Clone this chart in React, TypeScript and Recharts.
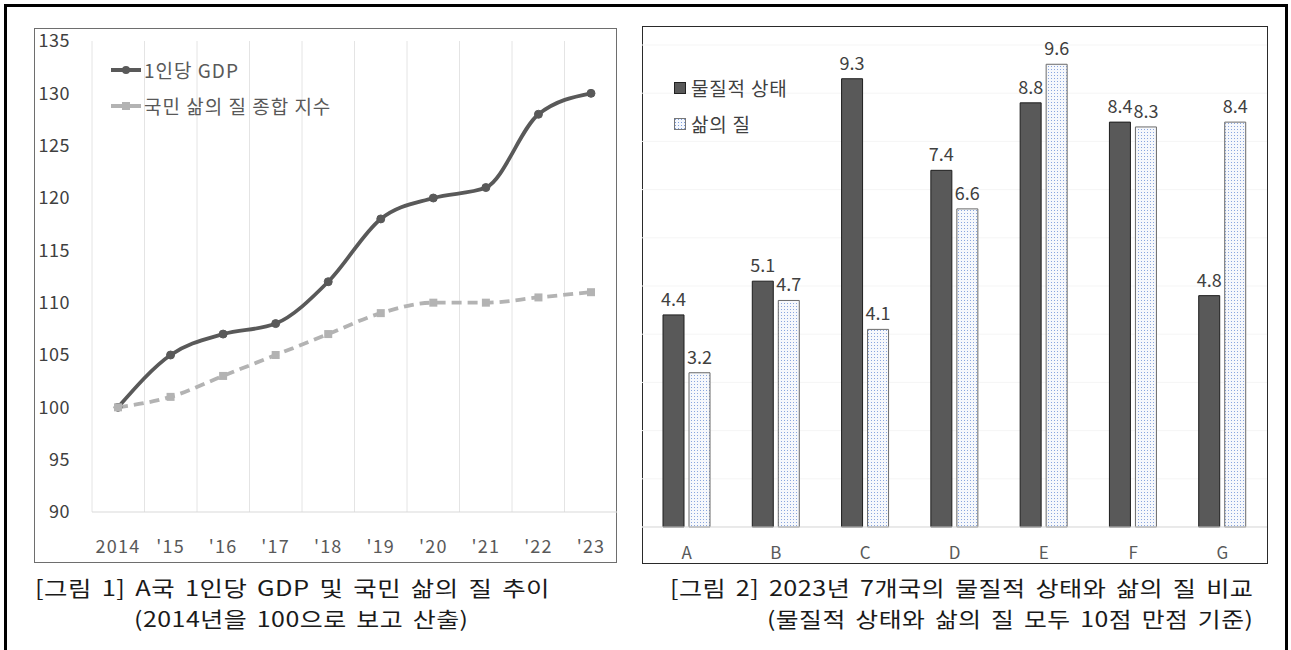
import React from 'react';
import {
  LineChart,
  Line,
  XAxis,
  YAxis,
  CartesianGrid,
  Legend,
  BarChart,
  Bar,
  LabelList,
} from 'recharts';

// ---------- Figure 1 data ----------
const years = ['2014', "'15", "'16", "'17", "'18", "'19", "'20", "'21", "'22", "'23"];
const gdpIndex = [100, 105, 107, 108, 112, 118, 120, 121, 128, 130];
const qualityIndex = [100, 101, 103, 105, 107, 109, 110, 110, 110.5, 111];
const indexTicks = [90, 95, 100, 105, 110, 115, 120, 125, 130, 135];
const lineSeriesNames = ['1인당 GDP', '국민 삶의 질 종합 지수'];

// ---------- Figure 2 data ----------
const countries = ['A', 'B', 'C', 'D', 'E', 'F', 'G'];
const materialScore = [4.4, 5.1, 9.3, 7.4, 8.8, 8.4, 4.8];
const lifeScore = [3.2, 4.7, 4.1, 6.6, 9.6, 8.3, 8.4];
const scoreTicks = [0, 1, 2, 3, 4, 5, 6, 7, 8, 9, 10];
const barSeriesNames = ['물질적 상태', '삶의 질'];

const captions1 = ['[그림 1] A국 1인당 GDP 및 국민 삶의 질 추이', '(2014년을 100으로 보고 산출)'];
const captions2 = ['[그림 2] 2023년 7개국의 물질적 상태와 삶의 질 비교', '(물질적 상태와 삶의 질 모두 10점 만점 기준)'];

const lineData = years.map((y, i) => ({ year: y, gdp: gdpIndex[i], quality: qualityIndex[i] }));
const barData = countries.map((c, i) => ({ country: c, material: materialScore[i], life: lifeScore[i] }));

const FONT = "'Noto Sans CJK KR', 'Noto Sans', sans-serif";
const DARK = '#595959';
const LIGHT = '#b3b3b3';

const SquareDot = (props: any) => {
  const { cx, cy, index } = props;
  if (cx == null || cy == null) return null;
  return <rect key={`sq-${index}`} x={cx - 4} y={cy - 4} width={8} height={8} fill={LIGHT} />;
};

const LineLegend = () => (
  <div style={{ fontFamily: FONT, fontSize: 19, color: DARK, lineHeight: '36px', letterSpacing: 1 }}>
    <div style={{ display: 'flex', alignItems: 'center', whiteSpace: 'nowrap' }}>
      <svg width={32} height={12} style={{ marginRight: 1 }}>
        <line x1={0} y1={6} x2={30} y2={6} stroke={DARK} strokeWidth={4} />
        <circle cx={15} cy={6} r={4} fill={DARK} />
      </svg>
      <span>{lineSeriesNames[0]}</span>
    </div>
    <div style={{ display: 'flex', alignItems: 'center', whiteSpace: 'nowrap' }}>
      <svg width={32} height={12} style={{ marginRight: 1 }}>
        <line x1={0} y1={6} x2={30} y2={6} stroke={LIGHT} strokeWidth={4} />
        <rect x={11} y={2} width={8} height={8} fill={LIGHT} />
      </svg>
      <span>{lineSeriesNames[1]}</span>
    </div>
  </div>
);

const BarLegend = () => (
  <div style={{ fontFamily: FONT, fontSize: 19, color: '#404040', lineHeight: '36px', letterSpacing: 0.8 }}>
    <div style={{ display: 'flex', alignItems: 'center', whiteSpace: 'nowrap' }}>
      <svg width={14} height={12} style={{ marginRight: 3 }}>
        <rect x={0.5} y={0.5} width={11} height={11} fill={DARK} stroke="#222" />
      </svg>
      <span>{barSeriesNames[0]}</span>
    </div>
    <div style={{ display: 'flex', alignItems: 'center', whiteSpace: 'nowrap' }}>
      <svg width={14} height={12} style={{ marginRight: 3 }}>
        <defs>
          <pattern id="legdots" width="3" height="3" patternUnits="userSpaceOnUse">
            <rect width="3" height="3" fill="#f5f8fd" />
            <rect x="1" y="1" width="1" height="1" fill="#7d9ddb" />
          </pattern>
        </defs>
        <rect x={0.5} y={0.5} width={11} height={11} fill="url(#legdots)" stroke="#777" />
      </svg>
      <span>{barSeriesNames[1]}</span>
    </div>
  </div>
);

const captionStyle: React.CSSProperties = {
  position: 'absolute',
  fontFamily: FONT,
  fontSize: 21,
  color: '#1a1a1a',
  whiteSpace: 'nowrap',
  lineHeight: '24px',
  letterSpacing: 0.4,
  wordSpacing: 3,
  display: 'inline-block',
};

// Caption text stretched horizontally to the width it occupies in the figure.
const FitText = ({ text, left, right, top, width }: { text: string; left?: number; right?: number; top: number; width: number }) => {
  const ref = React.useRef<HTMLSpanElement>(null);
  const [scale, setScale] = React.useState(1);
  React.useLayoutEffect(() => {
    if (ref.current) {
      const w = ref.current.offsetWidth;
      if (w > 0) setScale(width / w);
    }
  }, [text, width]);
  return (
    <span
      ref={ref}
      style={{
        ...captionStyle,
        left,
        right,
        top,
        transform: `scaleX(${scale})`,
        transformOrigin: right != null ? 'right center' : 'left center',
      }}
    >
      {text}
    </span>
  );
};

export default function App() {
  return (
    <div
      style={{
        position: 'absolute',
        left: 0,
        top: 0,
        width: 1291,
        height: 650,
        overflow: 'hidden',
        background: '#ffffff',
        fontFamily: FONT,
      }}
    >
      {/* outer frame */}
      <div
        style={{
          position: 'absolute',
          left: 4,
          top: 4,
          width: 1284,
          height: 680,
          border: '3px solid #000',
          boxSizing: 'border-box',
        }}
      />

      {/* Figure 1 box */}
      <div
        style={{
          position: 'absolute',
          left: 34,
          top: 28,
          width: 583,
          height: 535,
          border: '1px solid #6e6e6e',
          boxSizing: 'border-box',
        }}
      />
      <div style={{ position: 'absolute', left: 34, top: 18 }}>
        <LineChart width={583} height={544} data={lineData} margin={{ top: 23, right: 0, bottom: 0, left: 0 }}>
          <CartesianGrid
            horizontal={false}
            stroke="#e4e4e4"
            verticalCoordinatesGenerator={({ offset }: any) =>
              years.map((_, i) => offset.left + (i * offset.width) / years.length)
            }
          />
          <XAxis
            dataKey="year"
            height={50}
            padding={{ left: 26, right: 26 }}
            axisLine={{ stroke: '#d9d9d9' }}
            tickLine={false}
            tickMargin={22}
            interval={0}
            tick={{ fill: DARK, fontSize: 18, fontFamily: FONT, letterSpacing: 1.2 }}
          />
          <YAxis
            domain={[90, 135]}
            ticks={indexTicks}
            width={58}
            axisLine={false}
            tickLine={false}
            tickMargin={16}
            interval={0}
            tick={{ fill: '#404040', fontSize: 18, fontFamily: FONT, letterSpacing: 0.5 }}
          />
          <Legend
            layout="vertical"
            align="center"
            verticalAlign="middle"
            content={() => <LineLegend />}
            wrapperStyle={{ left: 77, top: 34, width: 'auto' }}
          />
          <Line
            dataKey="gdp"
            type="monotone"
            stroke={DARK}
            strokeWidth={3.8}
            dot={{ r: 4, fill: DARK, stroke: DARK, strokeWidth: 1 }}
            isAnimationActive={false}
          />
          <Line
            dataKey="quality"
            type="monotone"
            stroke={LIGHT}
            strokeWidth={3.8}
            strokeDasharray="10 6"
            dot={SquareDot}
            isAnimationActive={false}
          />
        </LineChart>
      </div>
      <FitText text={captions1[0]} left={35} top={575} width={515} />
      <FitText text={captions1[1]} left={134} top={606} width={334} />

      {/* Figure 2 box */}
      <div
        style={{
          position: 'absolute',
          left: 642,
          top: 26,
          width: 626,
          height: 538,
          border: '1px solid #2a2a2a',
          boxSizing: 'border-box',
        }}
      />
      <div style={{ position: 'absolute', left: 642, top: 26 }}>
        <BarChart
          width={625}
          height={537}
          data={barData}
          margin={{ top: 19, right: 0, bottom: 0, left: 0 }}
          barSize={21}
          barGap={5}
        >
          <defs>
            <pattern id="dots" width="3" height="3" patternUnits="userSpaceOnUse">
              <rect width="3" height="3" fill="#f6f8fc" />
              <rect x="1" y="1" width="1" height="1" fill="#8aa6de" />
            </pattern>
          </defs>
          <CartesianGrid vertical={false} stroke="#f5f5f5" />
          <XAxis
            dataKey="country"
            height={36}
            axisLine={{ stroke: '#d9d9d9' }}
            tickLine={false}
            tickMargin={14}
            interval={0}
            tick={{ fill: DARK, fontSize: 17, fontFamily: FONT }}
          />
          <YAxis hide domain={[0, 10]} ticks={scoreTicks} />
          <Legend
            layout="vertical"
            align="center"
            verticalAlign="middle"
            content={() => <BarLegend />}
            wrapperStyle={{ left: 32, top: 44, width: 'auto' }}
          />
          <Bar dataKey="material" fill={DARK} stroke="#1e1e1e" strokeWidth={1} isAnimationActive={false}>
            <LabelList dataKey="material" position="top" offset={9} fill="#404040" fontSize={18} fontFamily={FONT} />
          </Bar>
          <Bar dataKey="life" fill="url(#dots)" stroke="#6a6a6a" strokeWidth={1} isAnimationActive={false}>
            <LabelList dataKey="life" position="top" offset={9} fill="#404040" fontSize={18} fontFamily={FONT} />
          </Bar>
        </BarChart>
      </div>
      <FitText text={captions2[0]} right={1291 - 1253} top={575} width={583} />
      <FitText text={captions2[1]} right={1291 - 1253} top={606} width={486} />
    </div>
  );
}
